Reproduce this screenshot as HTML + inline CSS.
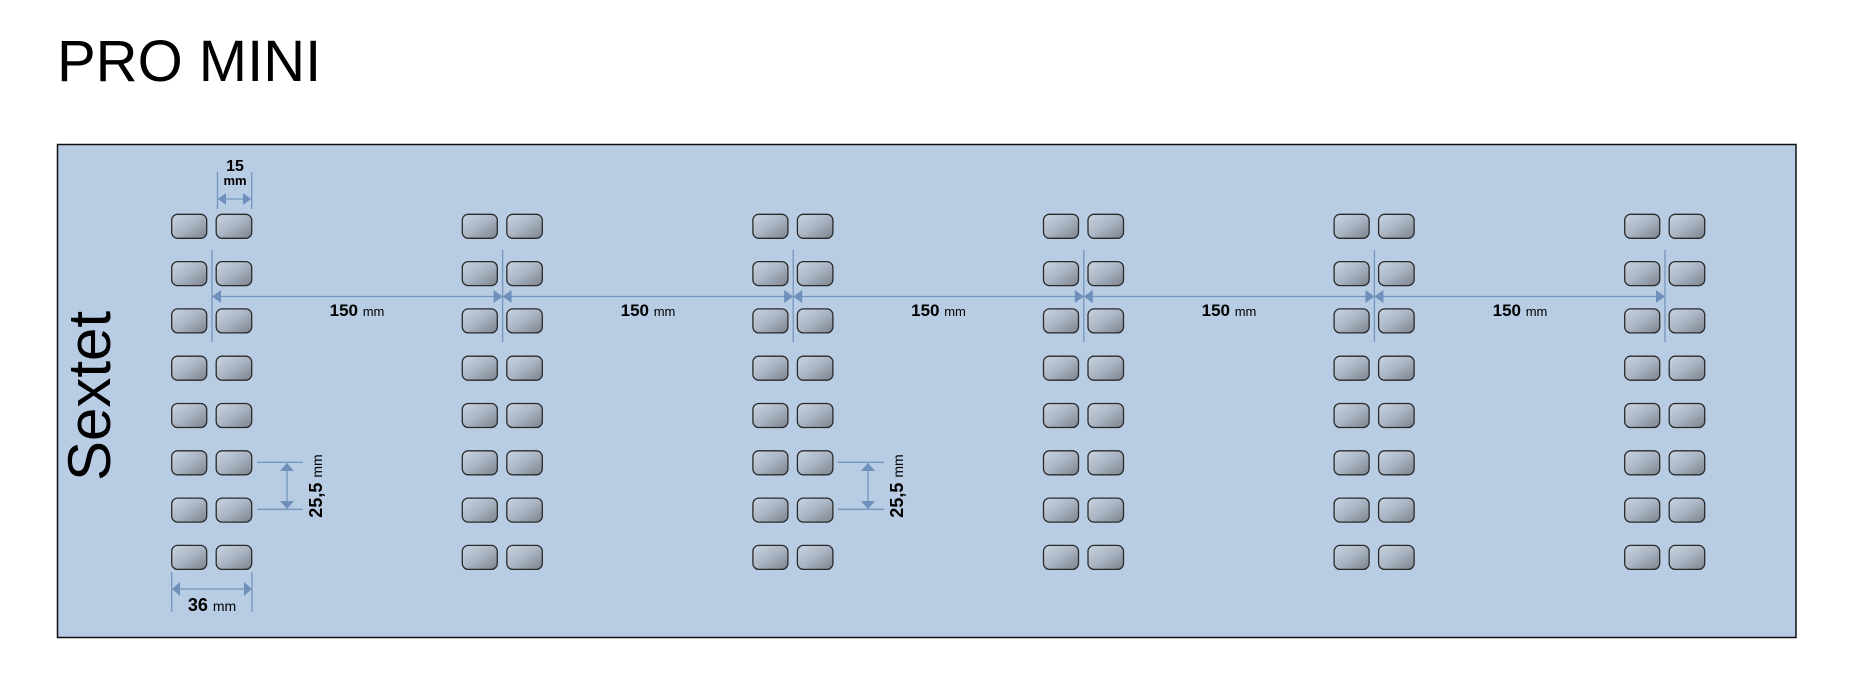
<!DOCTYPE html>
<html><head><meta charset="utf-8"><style>
html,body{margin:0;padding:0;background:#fff;}
svg{display:block;font-family:"Liberation Sans",Arial,sans-serif;}
</style></head><body>
<svg width="1864" height="691" viewBox="0 0 1864 691" xmlns="http://www.w3.org/2000/svg">
<defs>
<linearGradient id="g" x1="0" y1="0" x2="1" y2="1">
<stop offset="0" stop-color="#c9d4e2"/><stop offset="0.5" stop-color="#aab4c2"/><stop offset="1" stop-color="#7b838e"/>
</linearGradient>
<g id="btnrow">
<rect x="0" y="0" width="35" height="24" rx="6" fill="url(#g)" stroke="#2a2a2a" stroke-width="1.3"/>
<rect x="44.5" y="0" width="35.5" height="24" rx="6" fill="url(#g)" stroke="#2a2a2a" stroke-width="1.3"/>
</g>
<g id="col">
<use href="#btnrow" y="0"/><use href="#btnrow" y="47.3"/><use href="#btnrow" y="94.6"/><use href="#btnrow" y="141.9"/>
<use href="#btnrow" y="189.2"/><use href="#btnrow" y="236.5"/><use href="#btnrow" y="283.8"/><use href="#btnrow" y="331.1"/>
</g>
</defs>
<text x="57" y="81" font-size="58" fill="#000">PRO MINI</text>
<rect x="57.5" y="144.5" width="1738.5" height="493" fill="#b8cce4" stroke="#111" stroke-width="1.5"/>
<text transform="translate(110,396) rotate(-90)" text-anchor="middle" font-size="60" fill="#000">Sextet</text>
<g transform="translate(171.7,214.3)">
<use href="#col" x="0"/><use href="#col" x="290.6"/><use href="#col" x="581.2"/>
<use href="#col" x="871.8"/><use href="#col" x="1162.4"/><use href="#col" x="1453"/>
</g>
<g stroke="#7496bd" stroke-width="1.3" fill="none">
<line x1="212" y1="250" x2="212" y2="342"/>
<line x1="502.6" y1="250" x2="502.6" y2="342"/>
<line x1="793.2" y1="250" x2="793.2" y2="342"/>
<line x1="1083.8" y1="250" x2="1083.8" y2="342"/>
<line x1="1374.4" y1="250" x2="1374.4" y2="342"/>
<line x1="1665" y1="250" x2="1665" y2="342"/>
<line x1="212" y1="296.5" x2="1665" y2="296.5"/>
<line x1="217.5" y1="172" x2="217.5" y2="209"/>
<line x1="251.7" y1="172" x2="251.7" y2="209"/>
<line x1="218" y1="199" x2="251" y2="199"/>
<line x1="257" y1="462.3" x2="303" y2="462.3"/>
<line x1="257" y1="509.3" x2="303" y2="509.3"/>
<line x1="287" y1="463" x2="287" y2="509"/>
<line x1="838" y1="462.3" x2="884" y2="462.3"/>
<line x1="838" y1="509.3" x2="884" y2="509.3"/>
<line x1="868" y1="463" x2="868" y2="509"/>
<line x1="171.7" y1="572" x2="171.7" y2="612"/>
<line x1="252" y1="572" x2="252" y2="612"/>
<line x1="172" y1="589" x2="252" y2="589"/>
</g>
<g fill="#6e90ba">
<polygon points="212,296.5 221,290 221,303"/>
<polygon points="502.6,296.5 493.6,290 493.6,303"/><polygon points="502.6,296.5 511.6,290 511.6,303"/>
<polygon points="793.2,296.5 784.2,290 784.2,303"/><polygon points="793.2,296.5 802.2,290 802.2,303"/>
<polygon points="1083.8,296.5 1074.8,290 1074.8,303"/><polygon points="1083.8,296.5 1092.8,290 1092.8,303"/>
<polygon points="1374.4,296.5 1365.4,290 1365.4,303"/><polygon points="1374.4,296.5 1383.4,290 1383.4,303"/>
<polygon points="1665,296.5 1656,290 1656,303"/>
<polygon points="218,199 226,193 226,205"/><polygon points="251,199 243,193 243,205"/>
<polygon points="287,463 280,471 294,471"/><polygon points="287,509 280,501 294,501"/>
<polygon points="868,463 861,471 875,471"/><polygon points="868,509 861,501 875,501"/>
<polygon points="172,589 180,582 180,596"/><polygon points="252,589 244,582 244,596"/>
</g>
<g fill="#000">
<text x="357" y="316" text-anchor="middle" font-size="17" font-weight="bold">150 <tspan font-size="13" font-weight="normal">mm</tspan></text>
<text x="648" y="316" text-anchor="middle" font-size="17" font-weight="bold">150 <tspan font-size="13" font-weight="normal">mm</tspan></text>
<text x="938.5" y="316" text-anchor="middle" font-size="17" font-weight="bold">150 <tspan font-size="13" font-weight="normal">mm</tspan></text>
<text x="1229" y="316" text-anchor="middle" font-size="17" font-weight="bold">150 <tspan font-size="13" font-weight="normal">mm</tspan></text>
<text x="1520" y="316" text-anchor="middle" font-size="17" font-weight="bold">150 <tspan font-size="13" font-weight="normal">mm</tspan></text>
<text x="235" y="171" text-anchor="middle" font-size="16" font-weight="bold">15</text>
<text x="235" y="185" text-anchor="middle" font-size="13" font-weight="bold">mm</text>
<text transform="translate(322,486) rotate(-90)" text-anchor="middle" font-size="18" font-weight="bold">25,5 <tspan font-size="14" font-weight="normal">mm</tspan></text>
<text transform="translate(903,486) rotate(-90)" text-anchor="middle" font-size="18" font-weight="bold">25,5 <tspan font-size="14" font-weight="normal">mm</tspan></text>
<text x="212" y="611" text-anchor="middle" font-size="18" font-weight="bold">36 <tspan font-size="14" font-weight="normal">mm</tspan></text>
</g>
</svg>
</body></html>
